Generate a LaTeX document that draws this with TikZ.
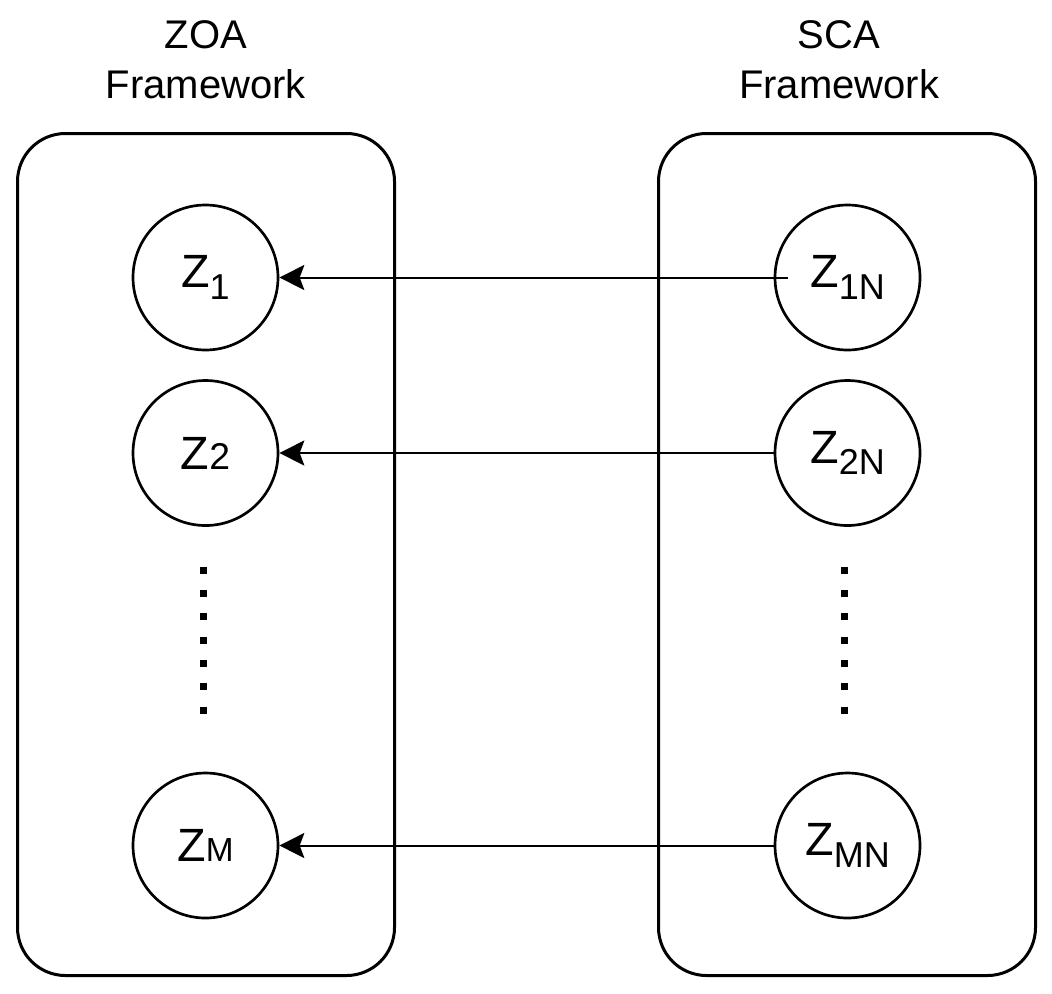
\documentclass[tikz,border=0pt]{standalone}
\usepackage{fontspec}
\setmainfont{Liberation Sans}
\usepackage{tikz}
\usetikzlibrary{arrows.meta,positioning}
\newcommand{\lowsub}[1]{\raisebox{-8.5pt}{\fontsize{27}{27}\selectfont #1}}
\newcommand{\flatsub}[1]{{\fontsize{28}{28}\selectfont #1}}
\newcommand{\capsub}[1]{{\fontsize{25}{25}\selectfont #1}}
\tikzset{
  framebox/.style={draw=black, line width=2.25pt, rounded corners=36pt,
    minimum width=282.75pt, minimum height=631.5pt, inner sep=0pt},
  heading/.style={align=center, inner sep=0pt, font=\fontsize{30}{38}\selectfont},
  latent/.style={draw=black, circle, line width=2pt, minimum size=108.75pt,
    inner sep=0pt, font=\fontsize{35}{40}\selectfont},
  flowarrow/.style={-{Stealth[length=18.75pt, width=18.75pt, inset=3.5pt]},
    line width=1.5pt, draw=black},
  ellipsis/.style={line width=5.25pt, dash pattern=on 5.25pt off 12.25pt}
}
\begin{document}
\begin{tikzpicture}[x=0.75pt, y=-0.75pt]
    \useasboundingbox[fill=white] (0,0) rectangle (1052,993);
    % the two frameworks
    \node[framebox] (zoa) at (206,554.5) {};
    \node[framebox] (sca) at (847,554.5) {};
    \node[heading, above=24.5pt of zoa] (zoatitle) {ZOA\\Framework};
    \node[heading, above=24.5pt of sca, xshift=-6pt] (scatitle) {SCA\\Framework};

    % ZOA variables
    \node[latent] (z1) at (205.5,277.5) {Z\lowsub{1}};
    \node[latent] (z2) at (205.5,453) {Z\flatsub{2}};
    \node[latent] (zm) at (205.5,845.5) {Z\capsub{M}};

    % SCA variables
    \node[latent] (z1n) at (847.5,277.5) {Z\lowsub{1N}};
    \node[latent] (z2n) at (847.5,453) {Z\lowsub{2N}};
    \node[latent] (zmn) at (847.5,845.5) {Z\lowsub{MN}};

    % vertical dots
    \coordinate (ldtop) at (203,566.5);
    \coordinate (ldbot) at (203,713.5);
    \coordinate (rdtop) at (844,566.5);
    \coordinate (rdbot) at (844,713.5);
    \draw[ellipsis] (ldtop) -- (ldbot);
    \draw[ellipsis] (rdtop) -- (rdbot);

    \draw[flowarrow, shorten <=-11pt] (z1n) -- (z1);
    \draw[flowarrow] (z2n) -- (z2);
    \draw[flowarrow] (zmn) -- (zm);
\end{tikzpicture}
\end{document}
